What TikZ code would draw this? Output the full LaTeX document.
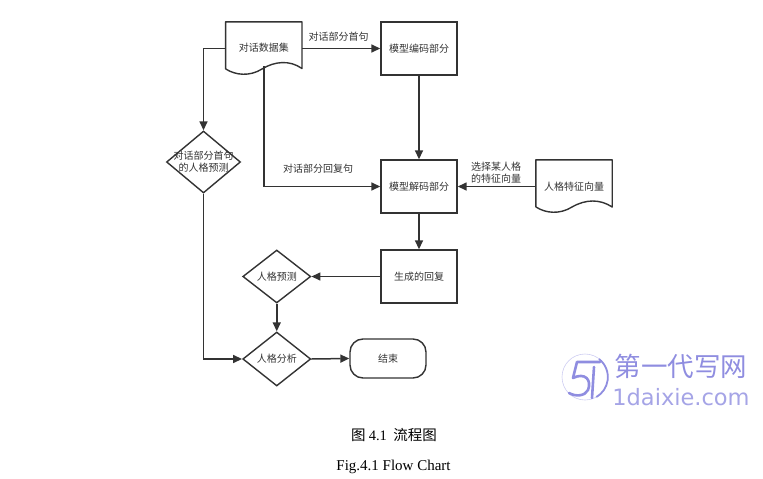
\documentclass[tikz,border=0pt]{standalone}
\usepackage{fontspec}
\setmainfont{Noto Sans CJK SC}
\newfontfamily\serifrm{Liberation Serif}
\newfontfamily\wmfont{DejaVu Sans}
\usetikzlibrary{shapes.geometric,arrows.meta,calc}
\definecolor{ink}{HTML}{333333}
\definecolor{wm}{HTML}{8F8DE0}
\tikzset{
  flowbox/.style={draw=ink,line width=1.4pt,rectangle,minimum width=76pt,minimum height=53pt,inner sep=0pt,text=ink,font=\fontsize{10}{12}\selectfont},
  docshape/.style={rectangle,minimum width=76pt,minimum height=53pt,inner sep=0pt,text=ink,font=\fontsize{10}{12}\selectfont},
  docline/.style={draw=ink,line width=1.4pt,line join=round},
  decision/.style={draw=ink,line width=1.4pt,diamond,inner sep=0pt,aspect=1.25},
  endbox/.style={draw=ink,line width=1.4pt,rectangle,rounded corners=13pt,minimum width=76pt,minimum height=39pt,inner sep=0pt,text=ink,font=\fontsize{10}{12}\selectfont},
  lbl/.style={text=ink,font=\fontsize{10}{12}\selectfont,inner sep=0pt,align=center},
  conn/.style={draw=ink,line width=1.5pt,-{Triangle[length=9pt,width=8pt]}},
  capt/.style={text=black,inner sep=0pt}
}
\begin{document}
\begin{tikzpicture}[x=1pt,y=-1pt]
\useasboundingbox (0,0) rectangle (763,479);
% nodes
\node[docshape] (data) at (263.75,48.5) {\raisebox{2pt}{对话数据集}};
\draw[docline] (data.west |- 0,69) -- (data.north west) -- (data.north east) -- (data.east |- 0,68.5)
  .. controls (290,60) and (275,61) .. (262,69) .. controls (250,76.5) and (236,75.5) .. (225.75,69);
\node[docshape] (pers) at (574,186.5) {人格特征向量};
\draw[docline] (pers.west |- 0,207) -- (pers.north west) -- (pers.north east) -- (pers.east |- 0,207)
  .. controls (600,199) and (586,199) .. (572,207) .. controls (560,214.5) and (546,213.5) .. (536,207);
\node[flowbox] (enc) at (419,48.5) {模型编码部分};
\node[flowbox] (dec) at (419,186.5) {模型解码部分};
\node[flowbox] (gen) at (419,276.5) {生成的回复};
\node[decision,minimum width=74pt,minimum height=62pt,aspect=1.19] (d1) at (203.5,162) {};
\node[lbl,align=center] (d1t) at (203.5,162) {对话部分首句\\的人格预测};
\node[decision,minimum width=68pt,minimum height=53pt,aspect=1.28] (d2) at (276.75,276.5) {};
\node[lbl] (d2t) at (d2) {人格预测};
\node[decision,minimum width=68pt,minimum height=54pt,aspect=1.26] (d3) at (276.75,359) {};
\node[lbl] (d3t) at (d3) {人格分析};
\node[endbox] (fin) at (388,358.5) {结束};
\coordinate (replyout) at (264,66);
% connectors
\draw[conn] (data.east) -- (enc.west);
\draw[conn] (data.west) -| (d1.north);
\draw[conn] (replyout) |- (dec.west);
\draw[conn] (enc.south) -- (dec.north);
\draw[conn] (pers.west) -- (dec.east);
\draw[conn] (dec.south) -- (gen.north);
\draw[conn] (gen.west) -- (d2.east);
\draw[conn] (d2.south) -- (d3.north);
\draw[conn] (d1.south) |- (d3.west);
\draw[conn] (d3.east) -- (fin.west);
% labels
\node[lbl] (l1) at (338.5,37) {对话部分首句};
\node[lbl] (l2) at (318,169) {对话部分回复句};
\node[lbl,font=\fontsize{10}{12}\selectfont] (l3) at (496,173) {选择某人格\\的特征向量};
% caption
\node[capt,font=\fontsize{14.5}{17}\selectfont] (c1) at (394,435) {图 {\serifrm 4.1}\ \ 流程图};
\node[capt,font=\fontsize{15}{17}\selectfont\serifrm] (c2) at (393.5,467) {Fig.4.1 Flow Chart};
% watermark
\draw[wm!45,line width=0.6pt] (585,377) circle (23);
\draw[wm,line width=1.8pt] (599,359) arc (-52:60:23);
\draw[wm,line width=2.6pt,line join=round,line cap=round]
  (600,362) -- (577,362) -- (573,378) .. controls (585,372) and (592,380) .. (588,390) .. controls (585,396) and (576,397) .. (569,393);
\draw[wm,line width=2.6pt,line cap=round] (594,367) -- (592,398);
\node[inner sep=0pt,text=wm,font=\fontsize{26.5}{28}\selectfont] (w1) at (681,366) {第一代写网};
\node[inner sep=0pt,text=wm!80,font=\fontsize{22.5}{26}\selectfont\wmfont] (w2) at (681,397) {1daixie.com};
\end{tikzpicture}
\end{document}
